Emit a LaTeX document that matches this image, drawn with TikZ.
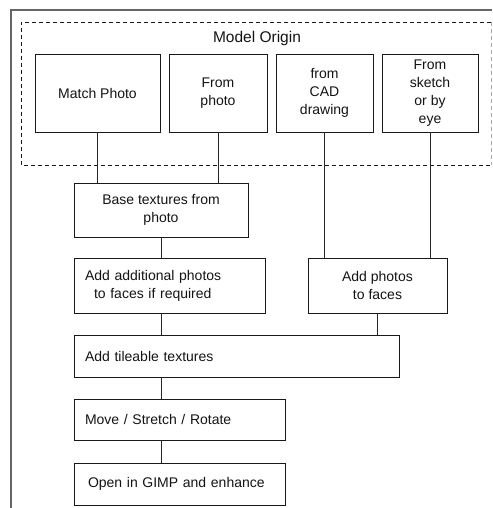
\documentclass[tikz,border=0pt]{standalone}
\usepackage{fontspec}
\setmainfont{Liberation Sans}
\begin{document}
\begin{tikzpicture}[x=1pt,y=-1pt,
  box/.style={draw=black!90, line width=0.9pt, fill=white, inner sep=0pt, align=center,
    font=\fontsize{14}{18}\selectfont, text=black!92},
  lbox/.style={box, align=left, inner xsep=11pt},
  conn/.style={draw=black!85, line width=0.85pt},
  frame/.style={draw=black!60, line width=1.3pt}]
\useasboundingbox (0,0) rectangle (492,508);
% outer frame
\draw[frame] (11,508) -- (11,10) -- (492,10);
% dashed group
\draw[black!90, line width=0.8pt, dash pattern=on 4pt off 3pt] (491,22) -- (21,22) -- (21,165) -- (491,165);
\draw[black!35, line width=0.8pt, dash pattern=on 4pt off 3pt] (491,22) -- (491,165);
\node[font=\fontsize{15.5}{18}\selectfont, text=black!92] (title) at (257,38) {Model Origin};
% top row
\node[box, minimum width=125pt, minimum height=78pt] (mp) at (97.5,93) {Match Photo};
\node[box, minimum width=98pt, minimum height=78pt] (fp) at (218,93) {From\\photo};
\node[box, minimum width=97pt, minimum height=78pt] (cad) at (324.5,93) {from\\CAD\\drawing};
\node[box, minimum width=96pt, minimum height=78pt] (sk) at (430,93) {From\\sketch\\or by\\eye};
% middle
\node[box, minimum width=174pt, minimum height=54pt] (base) at (161,210) {Base textures from\\photo};
\node[lbox, text width=169pt, minimum height=55pt] (aa) at (169.5,285.5) {Add additional photos\\\hspace*{9pt}to faces if required};
\node[box, minimum width=139pt, minimum height=55pt] (apf) at (377.5,285.5) {Add photos\\to faces};
% lower
\node[lbox, text width=303pt, minimum height=42pt] (tile) at (236.5,356) {Add tileable textures};
\node[lbox, text width=189pt, minimum height=41pt] (move) at (179.5,419.5) {Move / Stretch / Rotate};
\node[lbox, inner xsep=14pt, text width=183pt, minimum height=42pt] (open) at (179.5,484) {Open in GIMP and enhance};
% connectors
\draw[conn] (mp.south) -- (mp.south |- base.north);
\draw[conn] (fp.south) -- (fp.south |- base.north);
\draw[conn] (cad.south) -- (cad.south |- apf.north);
\draw[conn] (sk.south) -- (sk.south |- apf.north);
\draw[conn] (base.south) -- (base.south |- aa.north);
\draw[conn] (aa.south -| base.south) -- (tile.north -| base.south);
\draw[conn] (apf.south) -- (apf.south |- tile.north);
\draw[conn] (tile.south -| base.south) -- (move.north -| base.south);
\draw[conn] (move.south -| base.south) -- (open.north -| base.south);
\end{tikzpicture}
\end{document}
